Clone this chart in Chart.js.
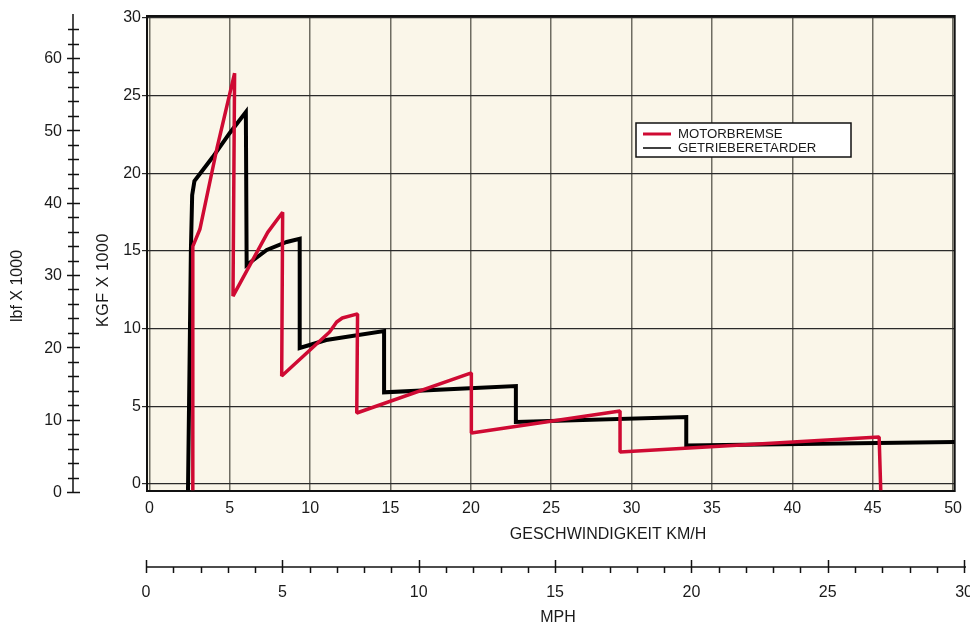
<!DOCTYPE html>
<html>
<head>
<meta charset="utf-8">
<script src="https://cdn.jsdelivr.net/npm/chart.js@4"></script>
<style>
  body { margin: 0; background: #fff; }
  canvas { display: block; }
</style>
</head>
<body>
<canvas id="brakeChart" width="970" height="628"></canvas>
<script>
// Motorbremse (red)
const motorKmh = [2.7, 2.7, 3.14, 4.2, 5.3, 5.2, 7.36, 8.29, 8.23, 11.21, 11.65, 12.0, 12.95, 12.9, 20.03, 20.03, 29.28, 29.28, 45.4, 45.5];
const motorKgf = [-0.4, 15.3, 16.4, 21.6, 26.45, 12.1, 16.2, 17.5, 6.95, 9.79, 10.43, 10.69, 10.95, 4.57, 7.15, 3.28, 4.7, 2.06, 3.03, -0.4];

// Getrieberetarder (black)
const retarderKmh = [2.4, 2.5, 2.58, 2.66, 2.8, 3.94, 5.0, 6.0, 6.05, 7.3, 8.54, 9.35, 9.35, 11.0, 14.6, 14.6, 22.8, 22.8, 33.4, 33.4, 50.1];
const retarderKgf = [-0.4, 8.0, 15.0, 18.6, 19.5, 21.05, 22.6, 23.95, 14.1, 15.07, 15.58, 15.78, 8.76, 9.27, 9.85, 5.9, 6.31, 4.0, 4.31, 2.48, 2.7];

// axis ticks
const kmhTicks = [0, 5, 10, 15, 20, 25, 30, 35, 40, 45, 50];
const kgfTicks = [0, 5, 10, 15, 20, 25, 30];
const lbfLabels = [0, 10, 20, 30, 40, 50, 60];
const mphLabels = [0, 5, 10, 15, 20, 25, 30];

const seriesLabels = ['MOTORBREMSE', 'GETRIEBERETARDER'];

const textColor = '#1a1a1a';
const fontFamily = '"Liberation Sans", Arial, Helvetica, sans-serif';

function toPoints(xs, ys) {
    return xs.map((x, i) => ({ x: x, y: ys[i] }));
}

// cream plot background + frame
const plotFrame = {
    id: 'plotFrame',
    beforeDraw(chart) {
        const a = chart.chartArea;
        const ctx = chart.ctx;
        ctx.save();
        ctx.fillStyle = '#faf6e9';
        ctx.fillRect(a.left, a.top, a.right - a.left, a.bottom - a.top);
        ctx.restore();
    },
    beforeDatasetsDraw(chart) {
        const a = chart.chartArea;
        const ctx = chart.ctx;
        ctx.save();
        ctx.strokeStyle = '#111';
        ctx.lineWidth = 2;
        ctx.strokeRect(a.left, a.top, a.right - a.left, a.bottom - a.top);
        ctx.restore();
    }
};

// secondary axes (lbf and mph), titles and legend box
const extras = {
    id: 'extras',
    afterDraw(chart) {
        const ctx = chart.ctx;
        ctx.save();
        ctx.strokeStyle = '#111';
        ctx.fillStyle = textColor;
        ctx.font = '16px ' + fontFamily;

        // lbf axis
        const lbfY = v => 492 - v * 7.233;
        ctx.lineWidth = 1.5;
        ctx.beginPath();
        ctx.moveTo(73, 14);
        ctx.lineTo(73, 493);
        ctx.stroke();
        for (let v = 0; v <= 64; v += 2) {
            const y = Math.round(lbfY(v)) + 0.5;
            const major = v % 10 === 0;
            ctx.beginPath();
            ctx.moveTo(major ? 67 : 68, y);
            ctx.lineTo(major ? 80 : 79, y);
            ctx.stroke();
        }
        ctx.textAlign = 'right';
        ctx.textBaseline = 'middle';
        lbfLabels.forEach(v => ctx.fillText(String(v), 62, lbfY(v) + 1));

        // mph axis
        const mphX = v => 146 + v * 27.27;
        ctx.beginPath();
        ctx.moveTo(146, 567);
        ctx.lineTo(966, 567);
        ctx.stroke();
        for (let v = 0; v <= 30; v++) {
            const x = Math.round(mphX(v)) + 0.5;
            const major = v % 5 === 0;
            ctx.beginPath();
            ctx.moveTo(x, major ? 560 : 567);
            ctx.lineTo(x, 573);
            ctx.stroke();
        }
        ctx.textAlign = 'center';
        mphLabels.forEach(v => ctx.fillText(String(v), mphX(v), 593));
        ctx.fillText('MPH', 558, 618);

        // x title
        ctx.fillText('GESCHWINDIGKEIT KM/H', 608, 535);

        // rotated y titles
        ctx.save();
        ctx.translate(18, 286);
        ctx.rotate(-Math.PI / 2);
        ctx.fillText('lbf X 1000', 0, 0);
        ctx.restore();
        ctx.save();
        ctx.translate(104, 280);
        ctx.rotate(-Math.PI / 2);
        ctx.letterSpacing = '0.6px';
        ctx.fillText('KGF X 1000', 0, 0);
        ctx.restore();

        // legend
        ctx.fillStyle = '#fff';
        ctx.fillRect(636, 123, 215, 34);
        ctx.lineWidth = 1.5;
        ctx.strokeStyle = '#111';
        ctx.strokeRect(636, 123, 215, 34);
        const ds = chart.data.datasets;
        ctx.font = '13.2px ' + fontFamily;
        ctx.textAlign = 'left';
        ctx.fillStyle = textColor;
        [134, 148].forEach((y, i) => {
            ctx.strokeStyle = ds[i].borderColor;
            ctx.lineWidth = i === 0 ? 3 : 1.5;
            ctx.beginPath();
            ctx.moveTo(643, y);
            ctx.lineTo(671, y);
            ctx.stroke();
            ctx.fillText(ds[i].label, 678, y);
        });
        ctx.restore();
    }
};

const ctx = document.getElementById('brakeChart').getContext('2d');
new Chart(ctx, {
    type: 'line',
    data: {
        datasets: [{
            label: seriesLabels[0],
            data: toPoints(motorKmh, motorKgf),
            borderColor: '#cf0a33',
            borderWidth: 3.5,
            borderJoinStyle: 'bevel',
            pointRadius: 0,
            tension: 0,
            fill: false
        }, {
            label: seriesLabels[1],
            data: toPoints(retarderKmh, retarderKgf),
            borderColor: '#000000',
            borderWidth: 4,
            borderJoinStyle: 'miter',
            pointRadius: 0,
            tension: 0,
            fill: false
        }]
    },
    options: {
        responsive: false,
        animation: false,
        layout: {
            padding: { top: 16, right: 14, left: 0, bottom: 0 }
        },
        plugins: {
            legend: { display: false },
            tooltip: { enabled: false }
        },
        scales: {
            x: {
                type: 'linear',
                min: -0.15,
                max: 50.1,
                afterFit: s => { s.height = 137; },
                afterBuildTicks: s => { s.ticks = kmhTicks.map(v => ({ value: v })); },
                border: { display: false },
                grid: { color: '#6e6c62', lineWidth: 1.5, drawTicks: false },
                ticks: {
                    padding: 8,
                    color: textColor,
                    font: { family: fontFamily, size: 16 }
                }
            },
            y: {
                type: 'linear',
                min: -0.45,
                max: 30.13,
                afterFit: s => { s.width = 147; },
                afterBuildTicks: s => { s.ticks = kgfTicks.map(v => ({ value: v })); },
                border: { display: false },
                grid: { color: '#2a2a2a', lineWidth: 1.2, tickLength: 5 },
                ticks: {
                    padding: 1,
                    color: textColor,
                    font: { family: fontFamily, size: 16 }
                }
            }
        }
    },
    plugins: [plotFrame, extras]
});
</script>
</body>
</html>
